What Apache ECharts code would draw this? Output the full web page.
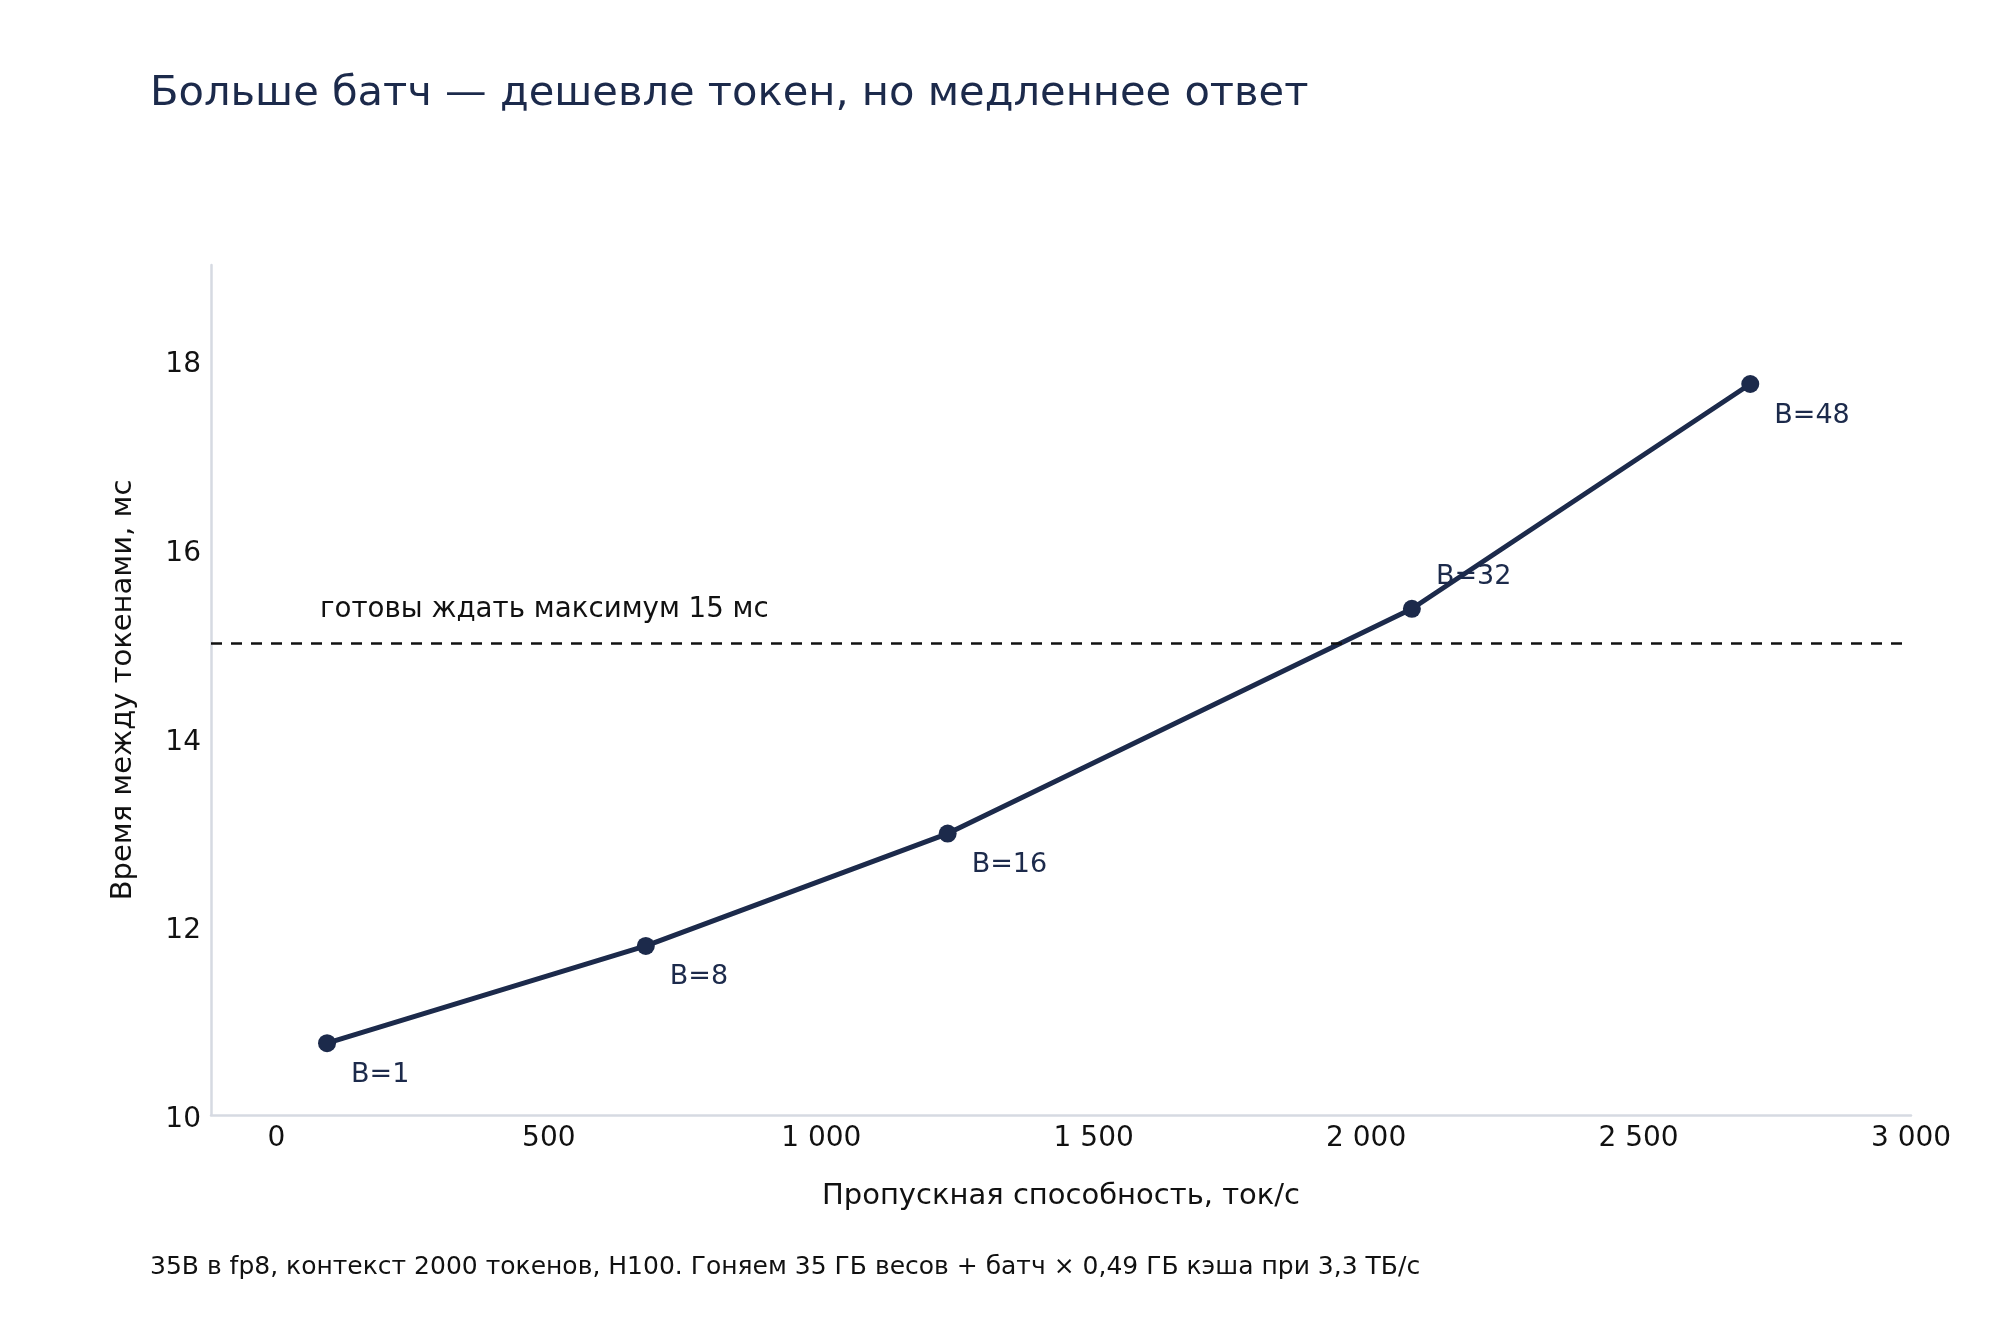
<!DOCTYPE html>
<html>
<head>
<meta charset="utf-8">
<script src="https://cdn.jsdelivr.net/npm/echarts@6/dist/echarts.min.js"></script>
<style>
  html, body { margin: 0; padding: 0; background: #fff; }
  #chart { width: 2000px; height: 1320px; }
</style>
</head>
<body>
<div id="chart"></div>
<script>
// данные
const batchNames = ['B=1', 'B=8', 'B=16', 'B=32', 'B=48']
const throughput = [93, 678, 1232, 2084, 2705]     // ток/с
const tokenTime = [10.76, 11.79, 12.98, 15.36, 17.74] // мс
const limitMs = 15
const limitText = 'готовы ждать максимум 15 мс'
const labelsAbove = ['B=32']

const NAVY = '#1c2a4b'
const FONT = 'DejaVu Sans'

// пробел как разделитель тысяч
function fmtThousands(v){
    return String(v).replace(/\B(?=(\d{3})+(?!\d))/g, ' ')
}

let points = []
for (let i = 0; i < batchNames.length; i++) {
    let above = labelsAbove.indexOf(batchNames[i]) >= 0
    points.push({
        value: [throughput[i], tokenTime[i]],
        name: batchNames[i],
        label: { offset: [15, above ? -32 : 31.5] }
    })
}

let option = {
    animation: false,
    backgroundColor: '#fff',
    textStyle: { fontFamily: FONT },
    title: [
        {
            text: 'Больше батч — дешевле токен, но медленнее ответ',
            left: 150,
            top: 73,
            padding: 0,
            textStyle: { fontFamily: FONT, fontSize: 41.6, fontWeight: 'normal', color: NAVY }
        },
        {
            text: '35B в fp8, контекст 2000 токенов, H100. Гоняем 35 ГБ весов + батч × 0,49 ГБ кэша при 3,3 ТБ/с',
            left: 150,
            top: 1255,
            padding: 0,
            textStyle: { fontFamily: FONT, fontSize: 25, fontWeight: 'normal', color: '#111' }
        }
    ],
    grid: { left: 211, right: 89, top: 265, bottom: 205 },
    xAxis: {
        type: 'value',
        min: -120,
        max: 3000,
        name: 'Пропускная способность, ток/с',
        nameLocation: 'middle',
        nameGap: 66.5,
        nameMoveOverlap: false,
        nameTextStyle: { fontFamily: FONT, fontSize: 29, color: '#111' },
        axisLine: { show: true, onZero: false, lineStyle: { color: '#d6dae2', width: 2.5 } },
        axisTick: { show: false },
        splitLine: { show: false },
        axisLabel: {
            fontFamily: FONT, fontSize: 28, color: '#111', margin: 10,
            formatter: v => (v % 500 === 0 ? fmtThousands(v) : '')
        }
    },
    yAxis: {
        type: 'value',
        min: 10,
        max: 19,
        interval: 2,
        name: 'Время между токенами, мс',
        nameLocation: 'middle',
        nameGap: 73.5,
        nameMoveOverlap: false,
        nameTextStyle: { fontFamily: FONT, fontSize: 29, color: '#111' },
        axisLine: { show: true, onZero: false, lineStyle: { color: '#d6dae2', width: 2.5 } },
        axisTick: { show: false },
        splitLine: { show: false },
        axisLabel: {
            fontFamily: FONT, fontSize: 28, color: '#111', margin: 10,
            formatter: v => (v % 2 === 0 ? '{t|' + v + '}' : ''),
            rich: {
                t: { fontFamily: FONT, fontSize: 28, color: '#111', padding: [10, 0, 0, 0] }
            }
        }
    },
    series: [
        {
            type: 'line',
            data: points,
            symbol: 'circle',
            symbolSize: 18,
            itemStyle: { color: NAVY },
            lineStyle: { color: NAVY, width: 5 },
            label: {
                show: true,
                position: 'right',
                distance: 0,
                formatter: p => p.name,
                fontFamily: FONT,
                fontSize: 27,
                color: NAVY
            },
            markLine: {
                silent: true,
                symbol: 'none',
                lineStyle: { color: '#111', width: 2.5, type: [11, 9] },
                label: {
                    show: true,
                    position: 'insideStartTop',
                    distance: [109, 19],
                    formatter: limitText,
                    fontFamily: FONT,
                    fontSize: 27.7,
                    color: '#111'
                },
                data: [{ yAxis: limitMs }]
            },
            z: 3
        }
    ]
}

let chartDom = echarts.init(document.querySelector('#chart'))
chartDom.setOption(option)
</script>
</body>
</html>
